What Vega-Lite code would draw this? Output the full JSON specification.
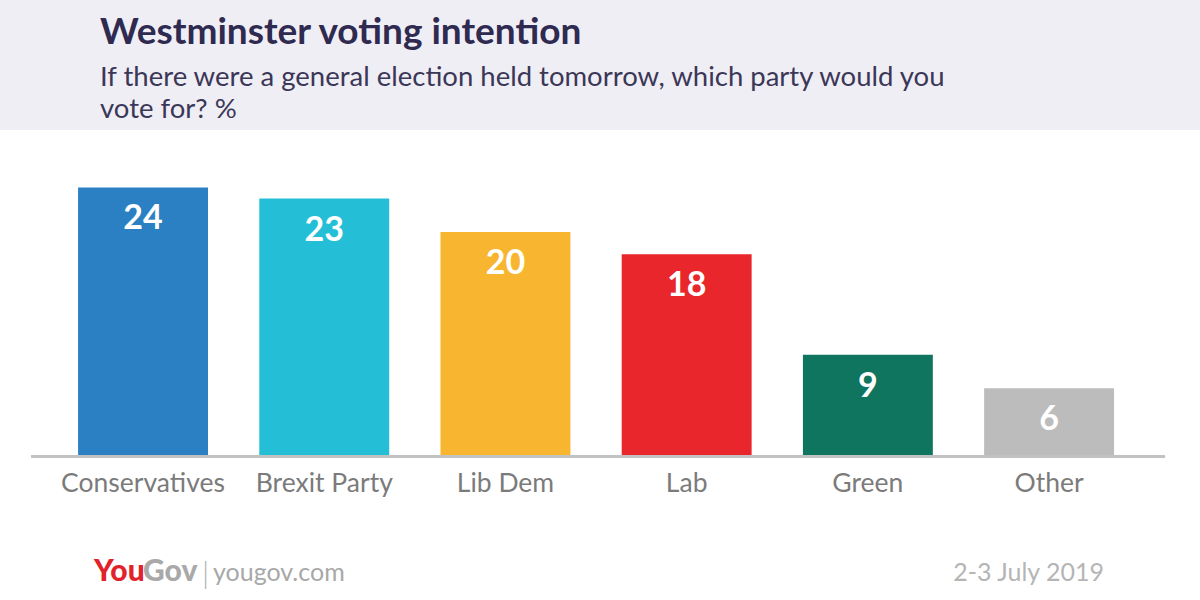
{
  "$schema": "https://vega.github.io/schema/vega-lite/v6.json",
  "width": 1200,
  "height": 470,
  "autosize": {"type": "none"},
  "padding": {"top": 130, "left": 0, "right": 0, "bottom": 0},
  "background": "#f0eef5",
  "view": {"fill": "white", "stroke": null},
  "config": {"font": "Lato"},
  "title": {
    "text": "Westminster voting intention",
    "subtitle": ["If there were a general election held tomorrow, which party would you", "vote for? %"],
    "anchor": "start",
    "frame": "group",
    "dx": 100,
    "offset": 6,
    "font": "Lato",
    "fontSize": 37,
    "fontWeight": "bold",
    "color": "#2e2a50",
    "subtitleFont": "Lato",
    "subtitleFontSize": 27.5,
    "subtitleColor": "#3b3757",
    "subtitleLineHeight": 32,
    "subtitlePadding": 12
  },
  "data": {
    "values": [
      {"party": "Conservatives", "value": 24},
      {"party": "Brexit Party", "value": 23},
      {"party": "Lib Dem", "value": 20},
      {"party": "Lab", "value": 18},
      {"party": "Green", "value": 9},
      {"party": "Other", "value": 6}
    ]
  },
  "encoding": {
    "x": {
      "field": "party",
      "type": "nominal",
      "sort": null,
      "axis": null,
      "scale": {
        "domain": ["Conservatives", "Brexit Party", "Lib Dem", "Lab", "Green", "Other"],
        "paddingInner": 0.283, "paddingOuter": 0.4526, "align": 0.476
      }
    }
  },
  "layer": [
    {
      "mark": {"type": "rule", "color": "#c2c2c2", "strokeWidth": 2, "xOffset": -47, "x2Offset": 51, "yOffset": 1.5},
      "encoding": {
        "x": {"datum": "Conservatives", "bandPosition": 0},
        "x2": {"datum": "Other", "bandPosition": 1},
        "y": {"datum": 0, "type": "quantitative", "scale": {"domain": [-13.0, 29.15], "nice": false, "zero": false}, "axis": null}
      }
    },
    {
      "mark": {"type": "bar"},
      "encoding": {
        "y": {"field": "value", "type": "quantitative", "scale": {"domain": [-13.0, 29.15], "nice": false, "zero": false}, "axis": null},
        "y2": {"datum": 0},
        "color": {
          "field": "party",
          "type": "nominal",
          "legend": null,
          "scale": {
            "domain": ["Conservatives", "Brexit Party", "Lib Dem", "Lab", "Green", "Other"],
            "range": ["#2a80c3", "#24bfd6", "#f8b630", "#e8262b", "#10755f", "#bdbcbd"]
          }
        }
      }
    },
    {
      "mark": {"type": "text", "color": "white", "fontSize": 34, "fontWeight": "bold", "baseline": "alphabetic", "dy": 42},
      "encoding": {
        "y": {"field": "value", "type": "quantitative"},
        "text": {"field": "value", "type": "quantitative"}
      }
    },
    {
      "mark": {"type": "text", "color": "#7b7b7b", "fontSize": 26.5, "baseline": "alphabetic"},
      "encoding": {
        "y": {"datum": -3.3},
        "text": {"field": "party", "type": "nominal"}
      }
    },
    {
      "data": {"values": [{"t": "You"}]},
      "mark": {"type": "text", "color": "#e2222b", "fontSize": 30, "fontWeight": 900, "align": "left", "baseline": "alphabetic"},
      "encoding": {"y": {"datum": -11.3}, "text": {"field": "t"}, "x": {"value": 94}}
    },
    {
      "data": {"values": [{"t": "Gov"}]},
      "mark": {"type": "text", "color": "#a9a9a9", "fontSize": 30, "fontWeight": 900, "align": "left", "baseline": "alphabetic"},
      "encoding": {"y": {"datum": -11.3}, "text": {"field": "t"}, "x": {"value": 143}}
    },
    {
      "data": {"values": [{"t": "|"}]},
      "mark": {"type": "text", "color": "#b0b0b0", "fontSize": 30, "fontWeight": 300, "align": "left", "baseline": "alphabetic"},
      "encoding": {"y": {"datum": -11.6}, "text": {"field": "t"}, "x": {"value": 202}}
    },
    {
      "data": {"values": [{"t": "yougov.com"}]},
      "mark": {"type": "text", "color": "#a8a8a8", "fontSize": 25, "align": "left", "baseline": "alphabetic"},
      "encoding": {"y": {"datum": -11.3}, "text": {"field": "t"}, "x": {"value": 213}}
    },
    {
      "data": {"values": [{"t": "2-3 July 2019"}]},
      "mark": {"type": "text", "color": "#b5b5b5", "fontSize": 25, "align": "right", "baseline": "alphabetic"},
      "encoding": {"y": {"datum": -11.3}, "text": {"field": "t"}, "x": {"value": 1104}}
    }
  ]
}
